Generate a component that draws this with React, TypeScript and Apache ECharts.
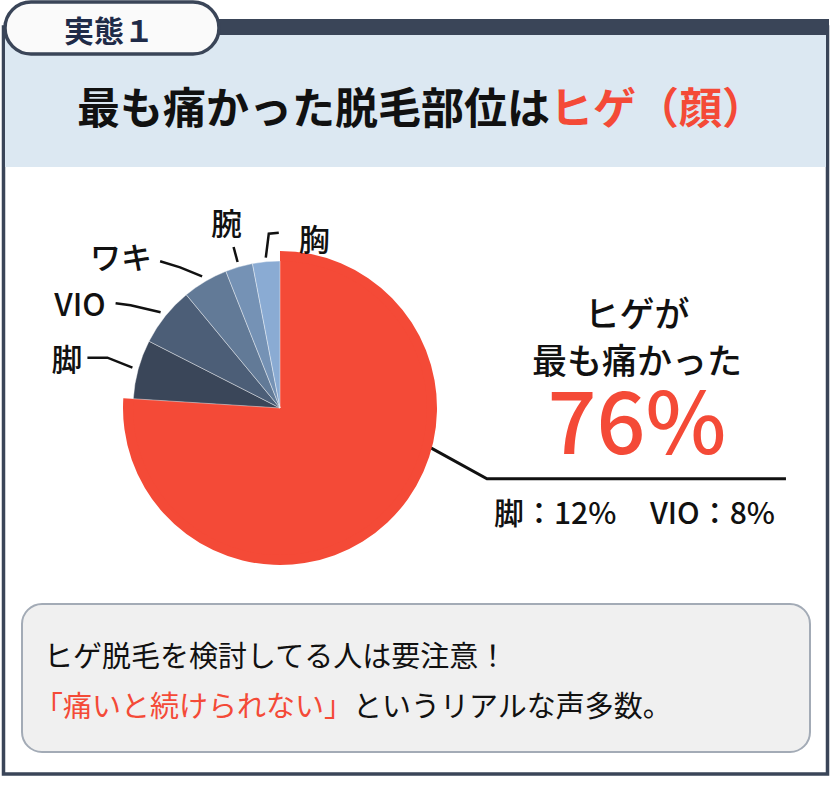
import React, { useEffect, useRef } from 'react';
import * as echarts from 'echarts';

// 部位ごとの「最も痛かった」割合（円グラフの角度から読み取り）
const parts = ['ヒゲ（顔）', '脚', 'VIO', 'ワキ', '腕', '胸'];
const shares = [76, 6.5, 6.5, 5, 3, 3];
const sliceColors = ['#f44a37', '#3a4659', '#4c5e77', '#627a97', '#7592b5', '#8aabd3'];

const tabText = '実態１';
const titleMain = '最も痛かった脱毛部位は';
const titleAccent = 'ヒゲ（顔）';
const headline = ['ヒゲが', '最も痛かった', '76%'];
const subNotes = ['脚：12%', 'VIO：8%'];
const noteLine1 = 'ヒゲ脱毛を検討してる人は要注意！';
const noteQuote = '「痛いと続けられない」';
const noteRest = 'というリアルな声多数。';

const FONT = '"Noto Sans CJK JP", "Noto Sans", sans-serif';
const RED = '#f44a37';
const NAVY = '#3a4558';
const CX = 280;
const CY = 408;
const R_SMALL = 147;
const R_BIG = 157;

// 引き出し線の形（スライスの縁からの相対位置）
const leaders = [
  { r: 144, angle: 103.6, d1: [67, 37], d2: [299, 0], tx: -149, ty: -191, align: 'center', va: 'top' },
  { r: 153, d1: [-25, -10], d2: [-20, 0], tx: -5, ty: 0, align: 'right', va: 'middle' },
  { r: 153, d1: [-30, -7], d2: [-15, -2], tx: -10, ty: -1, align: 'right', va: 'middle' },
  { r: 153, d1: [-22, -9], d2: [-20, -6], tx: -8, ty: -6, align: 'right', va: 'middle' },
  { r: 152, d1: [-4, -15], d2: [0, 0], tx: -7, ty: -10, align: 'center', va: 'bottom' },
  { r: 151, d1: [3, -24], d2: [10, -1], tx: 20, ty: 5, align: 'left', va: 'middle' },
];

const total = shares.reduce((a, b) => a + b, 0);
const midAngle = (i: number) => {
  let before = 0;
  for (let j = 0; j < i; j++) before += shares[j];
  return ((before + shares[i] / 2) / total) * 360;
};

const App: React.FC = () => {
  const chartRef = useRef<HTMLDivElement>(null);

  useEffect(() => {
    if (!chartRef.current) return;
    const chart = echarts.init(chartRef.current, null, { renderer: 'svg' });

    const labelLayout = (params: any) => {
      const i = params.dataIndex;
      const L = leaders[i];
      const a = ((i === 0 ? L.angle! : midAngle(i)) * Math.PI) / 180;
      const p0 = [CX + Math.sin(a) * L.r, CY - Math.cos(a) * L.r];
      const p1 = [p0[0] + L.d1[0], p0[1] + L.d1[1]];
      const p2 = [p1[0] + L.d2[0], p1[1] + L.d2[1]];
      return {
        x: p2[0] + L.tx,
        y: p2[1] + L.ty,
        align: L.align,
        verticalAlign: L.va,
        labelLinePoints: [p0, p1, p2],
      };
    };

    const noteStyle = {
      fontFamily: FONT,
      fontSize: 30,
      fontWeight: 500,
      fill: '#111',
      align: 'left',
      verticalAlign: 'middle',
    };

    const option: echarts.EChartsOption = {
      animation: false,
      graphic: [
        // 外枠
        {
          type: 'rect',
          shape: { x: 3.5, y: 27, width: 824, height: 747 },
          style: { fill: '#fff', stroke: NAVY, lineWidth: 3.5 },
        },
        // ヘッダー
        {
          type: 'rect',
          shape: { x: 5, y: 35, width: 821, height: 132 },
          style: { fill: '#dce8f2' },
        },
        {
          type: 'rect',
          shape: { x: 100, y: 19, width: 729, height: 16 },
          style: { fill: NAVY },
        },
        {
          type: 'rect',
          shape: { x: 5, y: 2, width: 214, height: 52, r: 26 },
          style: { fill: '#fafafa', stroke: NAVY, lineWidth: 3.5 },
        },
        {
          type: 'text',
          x: 109,
          y: 29,
          style: {
            text: tabText,
            fontFamily: FONT,
            fontSize: 30,
            fontWeight: 'bold',
            fill: '#1f2b48',
            align: 'center',
            verticalAlign: 'middle',
          },
        },
        {
          type: 'text',
          x: 421,
          y: 105,
          style: {
            text: `{k|${titleMain}}{r|${titleAccent}}`,
            align: 'center',
            verticalAlign: 'middle',
            rich: {
              k: { fontFamily: FONT, fontSize: 43, fontWeight: 'bold', fill: '#111' },
              r: { fontFamily: FONT, fontSize: 43, fontWeight: 'bold', fill: RED },
            },
          },
        },
        // 補足
        { type: 'text', x: 494, y: 511, style: { ...noteStyle, text: subNotes[0] } },
        { type: 'text', x: 650, y: 511, style: { ...noteStyle, text: subNotes[1] } },
        // 下部のコメント枠
        {
          type: 'rect',
          shape: { x: 22, y: 604, width: 788, height: 148, r: 20 },
          style: { fill: '#f0f0f0', stroke: '#a3abb6', lineWidth: 2 },
        },
        {
          type: 'text',
          x: 44,
          y: 654,
          style: {
            text: noteLine1,
            fontFamily: FONT,
            fontSize: 29,
            fill: '#111',
            align: 'left',
            verticalAlign: 'middle',
          },
        },
        {
          type: 'text',
          x: 34,
          y: 704,
          style: {
            text: `{r|${noteQuote}}{k|${noteRest}}`,
            align: 'left',
            verticalAlign: 'middle',
            rich: {
              r: { fontFamily: FONT, fontSize: 29, fill: RED },
              k: { fontFamily: FONT, fontSize: 29, fill: '#111' },
            },
          },
        },
      ],
      series: [
        // ヒゲだけ一回り大きく
        {
          type: 'pie',
          center: [CX, CY],
          radius: R_BIG,
          startAngle: 90,
          clockwise: true,
          silent: true,
          label: { show: false },
          labelLine: { show: false },
          emphasis: { disabled: true },
          data: parts.map((name, i) => ({
            name,
            value: shares[i],
            itemStyle: { color: i === 0 ? sliceColors[0] : 'rgba(0,0,0,0)' },
          })),
        },
        {
          type: 'pie',
          center: [CX, CY],
          radius: R_SMALL,
          startAngle: 90,
          clockwise: true,
          silent: true,
          avoidLabelOverlap: false,
          emphasis: { disabled: true },
          label: {
            show: true,
            position: 'outside',
            fontFamily: FONT,
            fontSize: 31,
            fontWeight: 500,
            color: '#111',
            formatter: '{b}',
          },
          labelLine: {
            show: true,
            lineStyle: { color: '#111', width: 2.5 },
          },
          labelLayout,
          data: parts.map((name, i) => ({
            name,
            value: shares[i],
            itemStyle:
              i === 0
                ? { color: sliceColors[0], borderWidth: 0 }
                : { color: sliceColors[i], borderColor: 'rgba(255,255,255,0.5)', borderWidth: 0.8 },
            label:
              i === 0
                ? {
                    formatter: `{a|${headline[0]}}\n{a|${headline[1]}}\n{b|${headline[2]}}`,
                    rich: {
                      a: { fontFamily: FONT, fontSize: 35, fontWeight: 500, color: '#111', lineHeight: 47, align: 'center' },
                      b: { fontFamily: FONT, fontSize: 86, color: RED, lineHeight: 70, align: 'center' },
                    },
                  }
                : {},
            labelLine: i === 0 ? { lineStyle: { color: '#111', width: 3 } } : {},
          })),
        },
      ],
    };

    chart.setOption(option);
    return () => {
      chart.dispose();
    };
  }, []);

  return (
    <div
      ref={chartRef}
      style={{ position: 'absolute', left: 0, top: 0, width: 831, height: 800, background: '#fff' }}
    />
  );
};

export default App;
